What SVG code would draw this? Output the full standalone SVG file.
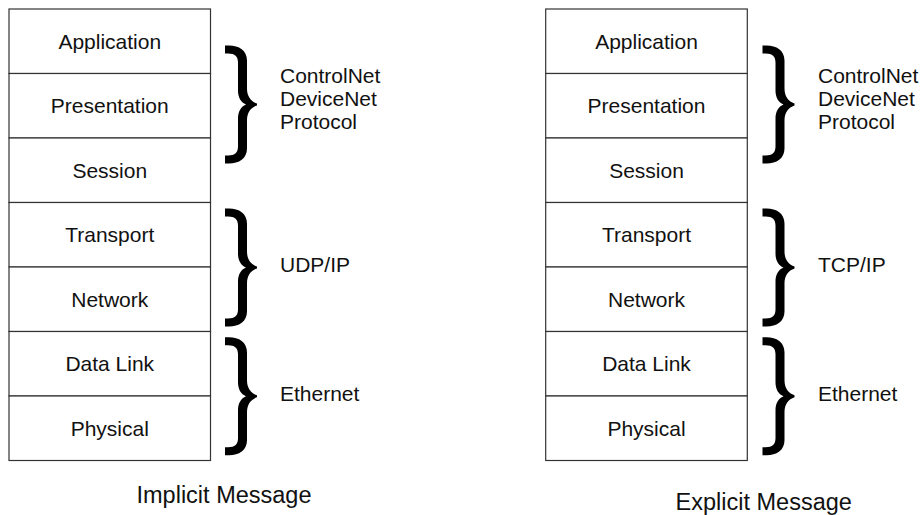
<svg xmlns="http://www.w3.org/2000/svg" xmlns:xlink="http://www.w3.org/1999/xlink" width="924" height="515" viewBox="0 0 924 515">
<style>
.box{fill:#fff;stroke:#333;stroke-width:1.2}
.lbl{font-family:"Liberation Sans",Arial,sans-serif;font-size:21px;fill:#111;text-anchor:middle}
.side{font-family:"Liberation Sans",Arial,sans-serif;font-size:21px;fill:#111}
.cap{font-family:"Liberation Sans",Arial,sans-serif;font-size:23.5px;fill:#111;text-anchor:middle}
.brace{fill:#000}
</style>
<defs>
<path id="brace" d="M0,-59 L4,-59 C14,-59 22,-54 22,-44 L22,-16 C22,-8 26,-3 32,-1 L32,1 C26,3 22,8 22,16 L22,44 C22,54 14,59 4,59 L0,59 L0,51 L3,51 C10,51 13,48 13,42 L13,14 C13,7 16,2 21,0 C16,-2 13,-7 13,-14 L13,-42 C13,-48 10,-51 3,-51 L0,-51 Z"/>
</defs>
<rect width="924" height="515" fill="#fff"/>
<g id="implicit-stack">
<g id="l-application"><rect class="box" x="9" y="9" width="201.5" height="64.5"/><text class="lbl" x="109.75" y="48.7">Application</text></g>
<g id="l-presentation"><rect class="box" x="9" y="73.5" width="201.5" height="64.5"/><text class="lbl" x="109.75" y="113.2">Presentation</text></g>
<g id="l-session"><rect class="box" x="9" y="138" width="201.5" height="64.5"/><text class="lbl" x="109.75" y="177.7">Session</text></g>
<g id="l-transport"><rect class="box" x="9" y="202.5" width="201.5" height="64.5"/><text class="lbl" x="109.75" y="242.2">Transport</text></g>
<g id="l-network"><rect class="box" x="9" y="267" width="201.5" height="64.5"/><text class="lbl" x="109.75" y="306.7">Network</text></g>
<g id="l-datalink"><rect class="box" x="9" y="331.5" width="201.5" height="64.5"/><text class="lbl" x="109.75" y="371.2">Data Link</text></g>
<g id="l-physical"><rect class="box" x="9" y="396" width="201.5" height="64.5"/><text class="lbl" x="109.75" y="435.7">Physical</text></g>
</g>
<g id="explicit-stack">
<g id="r-application"><rect class="box" x="545.7" y="9" width="201.6" height="64.5"/><text class="lbl" x="646.5" y="48.7">Application</text></g>
<g id="r-presentation"><rect class="box" x="545.7" y="73.5" width="201.6" height="64.5"/><text class="lbl" x="646.5" y="113.2">Presentation</text></g>
<g id="r-session"><rect class="box" x="545.7" y="138" width="201.6" height="64.5"/><text class="lbl" x="646.5" y="177.7">Session</text></g>
<g id="r-transport"><rect class="box" x="545.7" y="202.5" width="201.6" height="64.5"/><text class="lbl" x="646.5" y="242.2">Transport</text></g>
<g id="r-network"><rect class="box" x="545.7" y="267" width="201.6" height="64.5"/><text class="lbl" x="646.5" y="306.7">Network</text></g>
<g id="r-datalink"><rect class="box" x="545.7" y="331.5" width="201.6" height="64.5"/><text class="lbl" x="646.5" y="371.2">Data Link</text></g>
<g id="r-physical"><rect class="box" x="545.7" y="396" width="201.6" height="64.5"/><text class="lbl" x="646.5" y="435.7">Physical</text></g>
</g>
<g id="connectors">
<use class="brace" xlink:href="#brace" href="#brace" transform="translate(225,104.5)"/>
<use class="brace" xlink:href="#brace" href="#brace" transform="translate(225,267.5)"/>
<use class="brace" xlink:href="#brace" href="#brace" transform="translate(225,396.3)"/>
<use class="brace" xlink:href="#brace" href="#brace" transform="translate(762.5,104.5)"/>
<use class="brace" xlink:href="#brace" href="#brace" transform="translate(762.5,267.5)"/>
<use class="brace" xlink:href="#brace" href="#brace" transform="translate(762.5,396.3)"/>
</g>
<g id="l-labels">
<text class="side" x="280" y="82.5">ControlNet</text>
<text class="side" x="280" y="105.5">DeviceNet</text>
<text class="side" x="280" y="128.5">Protocol</text>
<text class="side" x="280" y="271.5">UDP/IP</text>
<text class="side" x="280" y="401">Ethernet</text>
</g>
<g id="r-labels">
<text class="side" x="818" y="82.5">ControlNet</text>
<text class="side" x="818" y="105.5">DeviceNet</text>
<text class="side" x="818" y="128.5">Protocol</text>
<text class="side" x="818" y="271.5">TCP/IP</text>
<text class="side" x="818" y="401">Ethernet</text>
</g>
<g id="captions">
<text class="cap" x="224" y="503.3">Implicit Message</text>
<text class="cap" x="763.7" y="509.5">Explicit Message</text>
</g>
</svg>
